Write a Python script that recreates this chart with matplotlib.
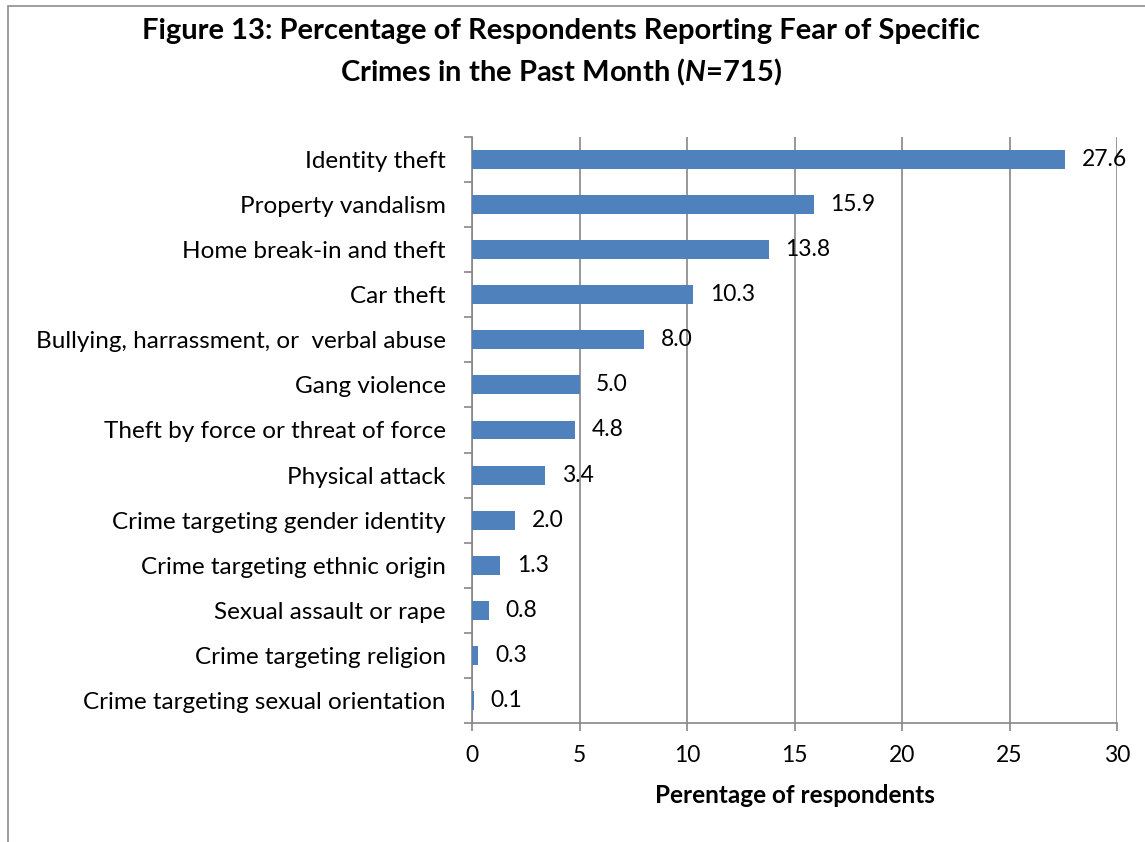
import matplotlib.pyplot as plt
from matplotlib.patches import Rectangle
import numpy as np

plt.rcParams['font.family'] = ['Lato', 'DejaVu Sans']
plt.rcParams['mathtext.fontset'] = 'custom'
plt.rcParams['mathtext.bfit'] = 'Lato:italic:bold'

crimes = ['Identity theft', 'Property vandalism', 'Home break-in and theft', 'Car theft',
          'Bullying, harrassment, or  verbal abuse', 'Gang violence',
          'Theft by force or threat of force', 'Physical attack',
          'Crime targeting gender identity', 'Crime targeting ethnic origin',
          'Sexual assault or rape', 'Crime targeting religion',
          'Crime targeting sexual orientation']
percent = [27.6, 15.9, 13.8, 10.3, 8.0, 5.0, 4.8, 3.4, 2.0, 1.3, 0.8, 0.3, 0.1]
x_ticks = [0, 5, 10, 15, 20, 25, 30]

W, H = 1145, 842
fig = plt.figure(figsize=(W / 100, H / 100), dpi=100)
ax = fig.add_axes([472 / W, 1 - 723 / H, (1117 - 472) / W, (723 - 137) / H])

# outer chart border (cut off on right and bottom)
fig.patches.append(Rectangle((8 / W, -0.1), 1.2, 1 - 6 / H + 0.1, transform=fig.transFigure,
                             fill=False, ec='#8c8c8c', lw=1.2))

grey = '#868686'
y = np.arange(len(crimes))
ax.barh(y, percent, height=0.42, color='#4F81BD', zorder=3)
for yi, v in zip(y, percent):
    ax.annotate(f'{v:.1f}', (v, yi), xytext=(12, 0), textcoords='offset points',
                va='center', ha='left', fontsize=16.5, zorder=4)

ax.set_xlim(0, 30)
ax.set_ylim(len(crimes) - 0.5, -0.5)
ax.set_xticks(x_ticks)
ax.set_xticklabels([str(t) for t in x_ticks], fontsize=16.5)
ax.set_yticks(y)
ax.set_yticklabels(crimes, fontsize=17.5)
ax.tick_params(axis='y', length=0, pad=19)
ax.set_yticks(np.arange(len(crimes) + 1) - 0.5, minor=True)
ax.tick_params(axis='y', which='minor', length=6, color=grey, width=1.2)
ax.tick_params(axis='x', length=6, color=grey, width=1.2, pad=10)
ax.grid(axis='x', color=grey, lw=1.2, zorder=0)

for s in ['top', 'right']:
    ax.spines[s].set_visible(False)
for s in ['left', 'bottom']:
    ax.spines[s].set_color(grey)
    ax.spines[s].set_linewidth(1.2)

ax.set_xlabel('Perentage of respondents', fontsize=17.5, fontweight='bold', labelpad=13)

fig.text(561 / W, 1 - 31 / H, 'Figure 13: Percentage of Respondents Reporting Fear of Specific',
         ha='center', va='center', fontsize=21, fontweight='bold')
fig.text(561 / W, 1 - 72 / H, r'Crimes in the Past Month ($\bfit{N}$=715)',
         ha='center', va='center', fontsize=21, fontweight='bold')

fig.savefig('out.png', dpi=100)
